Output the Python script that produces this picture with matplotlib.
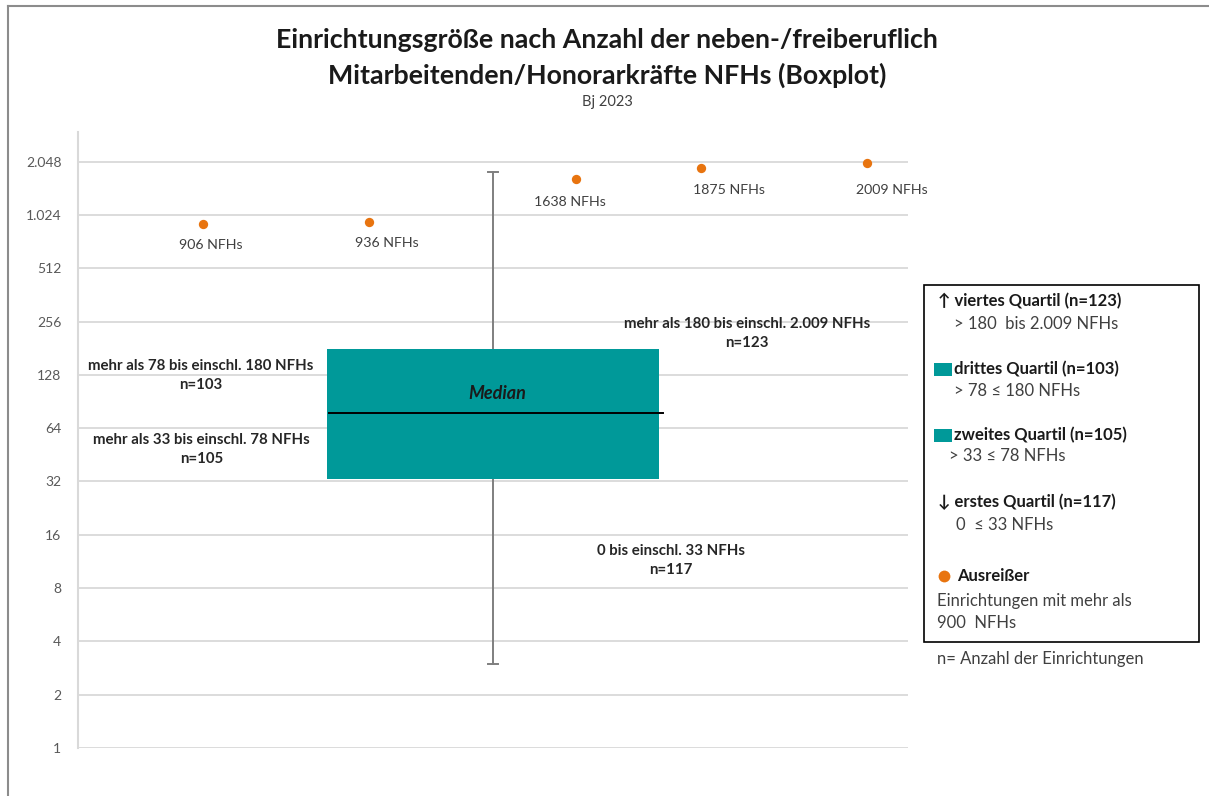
import matplotlib
matplotlib.use("Agg")
import matplotlib.pyplot as plt
import matplotlib.patches as mpatches
from matplotlib.lines import Line2D
from matplotlib.ticker import FixedLocator, FixedFormatter

plt.rcParams['font.family'] = ['Lato', 'DejaVu Sans']

# data
q1, median, q3 = 33, 78, 180
whisker_low, whisker_high = 3, 1800
outliers = [906, 936, 1638, 1875, 2009]
outlier_labels = ['906 NFHs', '936 NFHs', '1638 NFHs', '1875 NFHs', '2009 NFHs']
outlier_x = [1.5, 3.5, 6.0, 7.5, 9.5]
ticks = [1, 2, 4, 8, 16, 32, 64, 128, 256, 512, 1024, 2048]
tick_labels = ['1', '2', '4', '8', '16', '32', '64', '128', '256', '512', '1.024', '2.048']

TEAL = '#009999'
ORANGE = '#E8740F'
GRID = '#D9D9D9'
TXT = '#404040'

W, H = 1209, 796
fig = plt.figure(figsize=(W / 100, H / 100), dpi=100)


def px(x, y):
    # pixel from top-left -> figure fraction
    return x / W, 1 - y / H


ax = fig.add_axes([78 / W, 48 / H, 830 / W, 616 / H])
ax.set_yscale('log', base=2)
ax.set_ylim(1, 2 ** 11.557)
ax.set_xlim(0, 10)

ax.yaxis.set_major_locator(FixedLocator(ticks))
ax.yaxis.set_major_formatter(FixedFormatter(tick_labels))
ax.yaxis.set_minor_locator(FixedLocator([]))
ax.set_xticks([])
ax.tick_params(axis='y', length=0, pad=12, labelsize=10, labelcolor='#595959')
ax.grid(axis='y', color=GRID, linewidth=1.3)
ax.set_axisbelow(True)
for s in ['top', 'right', 'bottom']:
    ax.spines[s].set_visible(False)
ax.spines['left'].set_color(GRID)
ax.spines['left'].set_linewidth(1.5)

# whisker
cx, bw = 5.0, 4.0
ax.plot([cx, cx], [whisker_low, whisker_high], color='#7F7F7F', lw=1.4, zorder=2)
ax.plot([cx - 0.055, cx + 0.055], [whisker_high] * 2, color='#7F7F7F', lw=1.4, zorder=2)
ax.plot([cx - 0.055, cx + 0.055], [whisker_low] * 2, color='#7F7F7F', lw=1.4, zorder=2)

# box
ax.bar(cx, q3 - q1, bottom=q1, width=bw, color=TEAL, zorder=3)
ax.plot([cx - bw / 2 + 0.03, cx + bw / 2 + 0.05], [median, median], color='black', lw=1.4, zorder=4)
ax.text(5.05, 100, 'Median', ha='center', va='center', fontsize=13,
        style='italic', fontweight='bold', color='#1a1a1a', zorder=5)

# outliers
ax.scatter(outlier_x, outliers, s=45, color=ORANGE, zorder=5, linewidths=0)
label_offsets = [(8, -21), (18, -21), (-6, -23), (28, -22), (25, -27)]
for xv, yv, lab, (dx, dy) in zip(outlier_x, outliers, outlier_labels, label_offsets):
    ax.annotate(lab, (xv, yv), xytext=(dx * 0.72, dy * 0.72), textcoords='offset points',
                ha='center', va='center', fontsize=10.2, color=TXT)

# quartile labels
qtexts = [
    (1.48, 127, 'mehr als 78 bis einschl. 180 NFHs\nn=103'),
    (1.49, 48.3, 'mehr als 33 bis einschl. 78 NFHs\nn=105'),
    (8.06, 218, 'mehr als 180 bis einschl. 2.009 NFHs\nn=123'),
    (7.14, 11.5, '0 bis einschl. 33 NFHs\nn=117'),
]
for xv, yv, t in qtexts:
    ax.text(xv, yv, t, ha='center', va='center', fontsize=10.8, fontweight='bold',
            color='#262626', linespacing=1.45)

# title
fig.text(*px(607, 40), 'Einrichtungsgröße nach Anzahl der neben-/freiberuflich',
         ha='center', va='center', fontsize=19.3, fontweight='bold', color='#1a1a1a')
fig.text(*px(607, 75), 'Mitarbeitenden/Honorarkräfte NFHs (Boxplot)',
         ha='center', va='center', fontsize=19.3, fontweight='bold', color='#1a1a1a')
fig.text(*px(607, 102), 'Bj 2023', ha='center', va='center', fontsize=10.5, color=TXT)

# outer frame
fig.add_artist(Line2D([8 / W, 1], [1 - 6 / H] * 2, transform=fig.transFigure, color='#8C8C8C', lw=1.5))
fig.add_artist(Line2D([8 / W] * 2, [0, 1 - 6 / H], transform=fig.transFigure, color='#8C8C8C', lw=1.5))

# legend box
x0, y0 = px(924, 642)
x1, y1 = px(1199, 285)
fig.add_artist(mpatches.Rectangle((x0, y0), x1 - x0, y1 - y0, transform=fig.transFigure,
                                  facecolor='white', edgecolor='black', lw=1.2))

leg = [
    (938, 301, '↑ viertes Quartil (n=123)', True),
    (954, 324, '> 180  bis 2.009 NFHs', False),
    (954, 369, 'drittes Quartil (n=103)', True),
    (954, 391, '> 78 ≤ 180 NFHs', False),
    (954, 435, 'zweites Quartil (n=105)', True),
    (949, 456, '> 33 ≤ 78 NFHs', False),
    (938, 502, '↓ erstes Quartil (n=117)', True),
    (956, 525, '0  ≤ 33 NFHs', False),
    (957, 576, 'Ausreißer', True),
    (937, 601, 'Einrichtungen mit mehr als', False),
    (937, 623, '900  NFHs', False),
]
for lx, ly, t, b in leg:
    fig.text(*px(lx, ly), t, ha='left', va='center', fontsize=12,
             fontweight='bold' if b else 'normal', color='#1a1a1a' if b else TXT)

for sy in [363, 429]:
    sx0, sy0 = px(934, sy + 13)
    fig.add_artist(mpatches.Rectangle((sx0, sy0), 18 / W, 13 / H, transform=fig.transFigure,
                                      facecolor=TEAL, edgecolor='none'))
fig.add_artist(Line2D([944 / W], [1 - 576 / H], transform=fig.transFigure, marker='o',
                      markersize=8.5, color=ORANGE, markeredgewidth=0))

fig.text(*px(937, 659), 'n= Anzahl der Einrichtungen', ha='left', va='center', fontsize=12, color=TXT)

fig.savefig('out.png', dpi=100)
